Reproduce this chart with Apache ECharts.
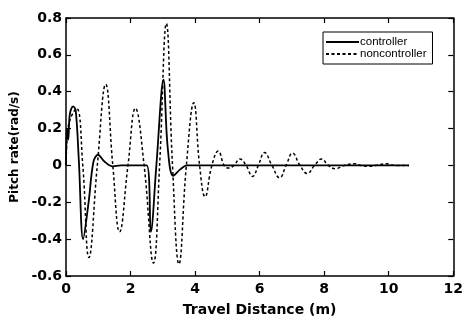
<!DOCTYPE html>
<html>
<head>
<meta charset="utf-8">
<script src="https://cdn.jsdelivr.net/npm/echarts@6/dist/echarts.min.js"></script>
<style>
  html, body { margin: 0; padding: 0; background: #fff; }
  #chart { width: 466px; height: 322px; }
</style>
</head>
<body>
<div id="chart"></div>
<script>
// travel distance (m) / pitch rate (rad/s)
const ctrlX = [0, 0.03, 0.07, 0.12, 0.22, 0.3, 0.4, 0.53, 0.7, 0.85, 0.99, 1.2, 1.45, 1.7, 2.5, 2.63, 2.8, 3.02, 3.15, 3.32, 3.55, 3.75, 10.63]
const ctrlY = [0, 0.2, 0.14, 0.28, 0.32, 0.3, 0.02, -0.4, -0.2, 0.02, 0.058, 0.02, -0.005, 0, 0, -0.36, 0, 0.465, 0.1, -0.056, -0.02, 0, 0]

const nonX = [0, 0.05, 0.15, 0.33, 0.52, 0.71, 0.97, 1.23, 1.45, 1.66, 1.92, 2.15, 2.42, 2.71, 2.9, 3.11, 3.3, 3.5, 3.73, 3.96, 4.14, 4.31, 4.52, 4.72, 4.9, 5.03, 5.2, 5.39, 5.58, 5.78, 5.96, 6.15, 6.38, 6.62, 6.82, 7.02, 7.25, 7.48, 7.7, 7.92, 8.13, 8.35, 8.62, 8.92, 9.13, 9.33, 9.6, 9.94, 10.2, 10.63]
const nonY = [0, 0.18, 0.26, 0.31, 0, -0.5, 0, 0.44, 0, -0.36, 0, 0.31, 0, -0.53, 0, 0.77, 0, -0.535, 0, 0.34, 0, -0.17, 0, 0.078, 0, -0.014, 0, 0.035, 0, -0.06, 0, 0.07, 0, -0.067, 0, 0.067, 0, -0.044, 0, 0.035, 0, -0.018, 0, 0.009, 0, -0.005, 0, 0.009, 0, 0]

const seriesNames = ['controller', 'noncontroller']
const xTicks = { min: 0, max: 12, interval: 2 }
const yTicks = { min: -0.6, max: 0.8, interval: 0.2 }

const font = 'DejaVu Sans'
const pairs = (xs, ys) => xs.map((x, i) => [x, ys[i]])

const frameAxis = (show) => ({
  axisLine: { show: true, onZero: false, lineStyle: { color: '#000', width: 1.5 } },
  axisTick: { show: true, inside: true, length: 5, lineStyle: { color: '#000', width: 1.2 } },
  splitLine: { show: false },
  axisLabel: {
    show: show,
    color: '#000',
    fontFamily: font,
    fontWeight: 'bold',
    fontSize: 14,
    margin: 6,
  },
})

const chart = echarts.init(document.getElementById('chart'), null, { renderer: 'canvas' })
chart.setOption({
  animation: false,
  backgroundColor: '#fff',
  grid: { left: 66, right: 7, top: 18, bottom: 38 },
  legend: {
    data: seriesNames,
    orient: 'vertical',
    left: 323,
    top: 32,
    padding: [4, 6, 4, 2],
    itemGap: 0,
    itemWidth: 33,
    itemHeight: 10,
    borderColor: '#000',
    borderWidth: 1,
    borderRadius: 0,
    itemStyle: { opacity: 0 },
    textStyle: { fontFamily: 'Liberation Sans', fontSize: 11.5, color: '#000', padding: [0, 0, 0, -4] },
  },
  xAxis: [
    {
      type: 'value', position: 'bottom', ...xTicks,
      ...frameAxis(true),
      name: 'Travel Distance (m)',
      nameLocation: 'middle',
      nameGap: 27,
      nameTextStyle: { fontFamily: font, fontWeight: 'bold', fontSize: 14, color: '#000' },
    },
    { type: 'value', position: 'top', ...xTicks, ...frameAxis(false) },
  ],
  yAxis: [
    {
      type: 'value', position: 'left', ...yTicks,
      ...frameAxis(true),
      axisLabel: {
        color: '#000', fontFamily: font, fontWeight: 'bold', fontSize: 14, margin: 4,
        formatter: v => v === 0 ? '0' : v.toFixed(1),
      },
      name: 'Pitch rate(rad/s)',
      nameLocation: 'middle',
      nameGap: 45,
      nameTextStyle: { fontFamily: font, fontWeight: 'bold', fontSize: 12, color: '#000' },
    },
    { type: 'value', position: 'right', ...yTicks, ...frameAxis(false) },
  ],
  series: [
    {
      name: seriesNames[0], type: 'line', data: pairs(ctrlX, ctrlY),
      symbol: 'none', smooth: 0.35, z: 3,
      lineStyle: { color: '#000', width: 1.8 },
      itemStyle: { color: '#000' },
    },
    {
      name: seriesNames[1], type: 'line', data: pairs(nonX, nonY),
      symbol: 'none', smooth: 0.45, z: 2,
      lineStyle: { color: '#000', width: 1.5, type: [3, 2.5] },
      itemStyle: { color: '#000' },
    },
  ],
})
</script>
</body>
</html>
